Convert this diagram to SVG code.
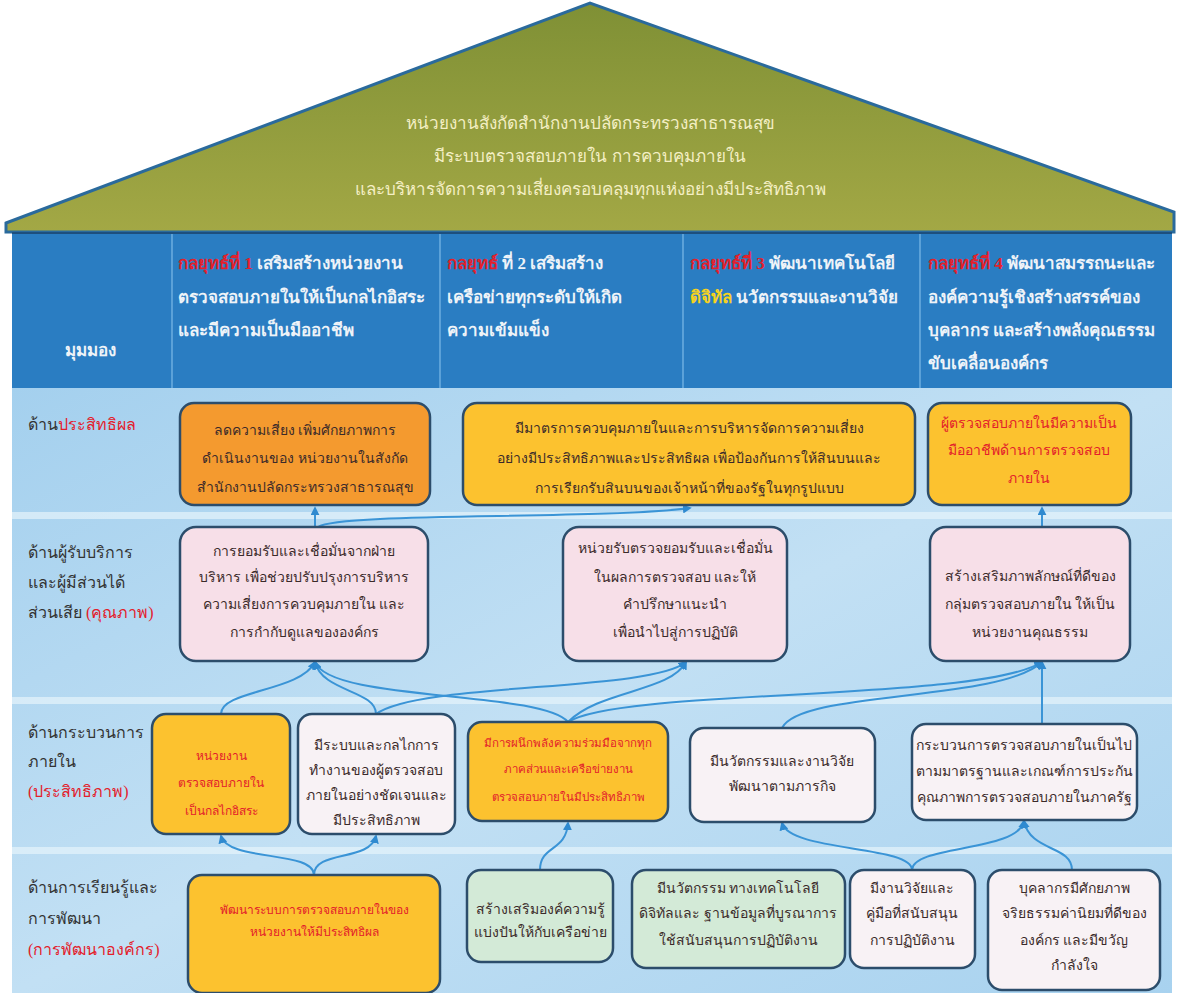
<svg xmlns="http://www.w3.org/2000/svg" width="1178" height="993" viewBox="0 0 1178 993">
<defs>
<linearGradient id="roofG" x1="0" y1="0" x2="0" y2="1">
<stop offset="0" stop-color="#7f9035"/>
<stop offset="1" stop-color="#a3a845"/>
</linearGradient>
<linearGradient id="bodyG" x1="0" y1="0" x2="1" y2="1">
<stop offset="0" stop-color="#a4d0ee"/>
<stop offset="0.5" stop-color="#c2e0f4"/>
<stop offset="1" stop-color="#a8d2ef"/>
</linearGradient>
<marker id="arr" viewBox="0 0 10 10" refX="8" refY="5" markerWidth="9" markerHeight="9" markerUnits="userSpaceOnUse" orient="auto">
<path d="M0,0 L10,5 L0,10 z" fill="#2f8ad0"/>
</marker>
<style>
.hd{font-family:"Liberation Serif","Noto Sans",serif;font-size:17px;font-weight:bold;fill:#eef3f8}
.rf{font-family:"Liberation Serif","Noto Sans",serif;font-size:17px;fill:#f4efc4}
.lb{font-family:"Liberation Serif","Noto Sans",serif;font-size:16px;fill:#333}
.tx{font-family:"Liberation Serif","Noto Sans",serif;font-size:14px;fill:#3b2a2a;text-anchor:middle}
.sm{font-size:12px}
.xs{font-size:11.5px}
.rd{fill:#e3202b}
.box{stroke:#2c4d6b;stroke-width:2.5}
.orange{fill:#f49a2f}
.yellow{fill:#fcc22f}
.pink{fill:#f7dfe8}
.white{fill:#f8f2f5}
.green{fill:#d3ead7}
.cn{fill:none;stroke:#3a94d6;stroke-width:2;marker-end:url(#arr)}
</style>
</defs>

<rect width="1178" height="993" fill="#ffffff"/>

<g id="roof">
<path d="M6,223 L590,3 L1174,212 L1174,232 L6,232 Z" fill="url(#roofG)" stroke="#2a6a9c" stroke-width="3"/>
<text class="rf" x="590" y="129" text-anchor="middle">หน่วยงานสังกัดสำนักงานปลัดกระทรวงสาธารณสุข</text>
<text class="rf" x="590" y="162" text-anchor="middle">มีระบบตรวจสอบภายใน การควบคุมภายใน</text>
<text class="rf" x="590" y="195" text-anchor="middle">และบริหารจัดการความเสี่ยงครอบคลุมทุกแห่งอย่างมีประสิทธิภาพ</text>
</g>

<g id="header">
<rect x="12" y="232" width="1160" height="156" fill="#2a7dc2"/>
<line x1="12" y1="233" x2="1172" y2="233" stroke="#1d4f7e" stroke-width="2"/>
<g stroke="#7dbbe8" stroke-width="1.2">
<line x1="172" y1="234" x2="172" y2="388"/>
<line x1="440" y1="234" x2="440" y2="388"/>
<line x1="683" y1="234" x2="683" y2="388"/>
<line x1="920" y1="234" x2="920" y2="388"/>
</g>
<text class="hd" x="90" y="356" text-anchor="middle">มุมมอง</text>
<text class="hd" x="178" y="269"><tspan class="rd">กลยุทธ์ที่ 1</tspan> เสริมสร้างหน่วยงาน</text>
<text class="hd" x="178" y="303">ตรวจสอบภายในให้เป็นกลไกอิสระ</text>
<text class="hd" x="178" y="336">และมีความเป็นมืออาชีพ</text>
<text class="hd" x="447" y="269"><tspan class="rd">กลยุทธ์</tspan> ที่ 2 เสริมสร้าง</text>
<text class="hd" x="447" y="303">เครือข่ายทุกระดับให้เกิด</text>
<text class="hd" x="447" y="336">ความเข้มแข็ง</text>
<text class="hd" x="690" y="269"><tspan class="rd">กลยุทธ์ที่ 3</tspan> พัฒนาเทคโนโลยี</text>
<text class="hd" x="690" y="303"><tspan fill="#f6d21e">ดิจิทัล</tspan> นวัตกรรมและงานวิจัย</text>
<text class="hd" x="928" y="269"><tspan class="rd">กลยุทธ์ที่ 4</tspan> พัฒนาสมรรถนะและ</text>
<text class="hd" x="928" y="303">องค์ความรู้เชิงสร้างสรรค์ของ</text>
<text class="hd" x="928" y="336">บุคลากร และสร้างพลังคุณธรรม</text>
<text class="hd" x="928" y="369">ขับเคลื่อนองค์กร</text>
</g>

<g id="body">
<rect x="12" y="388" width="1160" height="605" fill="url(#bodyG)"/>
<rect x="12" y="512" width="1160" height="7" fill="#e6f3fb" opacity="0.7"/>
<rect x="12" y="697" width="1160" height="7" fill="#e6f3fb" opacity="0.7"/>
<rect x="12" y="847" width="1160" height="7" fill="#e6f3fb" opacity="0.7"/>
</g>

<g id="labels">
<text class="lb" x="28" y="430">ด้าน<tspan class="rd">ประสิทธิผล</tspan></text>
<text class="lb" x="28" y="558">ด้านผู้รับบริการ</text>
<text class="lb" x="28" y="588">และผู้มีส่วนได้</text>
<text class="lb" x="28" y="618">ส่วนเสีย <tspan class="rd">(คุณภาพ)</tspan></text>
<text class="lb" x="28" y="738">ด้านกระบวนการ</text>
<text class="lb" x="28" y="767">ภายใน</text>
<text class="lb" x="28" y="797"><tspan class="rd">(ประสิทธิภาพ)</tspan></text>
<text class="lb" x="28" y="893">ด้านการเรียนรู้และ</text>
<text class="lb" x="28" y="924">การพัฒนา</text>
<text class="lb" x="28" y="955"><tspan class="rd">(การพัฒนาองค์กร)</tspan></text>
</g>

<g id="connectors">
<path class="cn" d="M315,527 L315,508"/>
<path class="cn" d="M318,527 C340,512 600,520 690,508"/>
<path class="cn" d="M1042,527 L1042,508"/>
<path class="cn" d="M221,714 C221,690 300,692 315,662"/>
<path class="cn" d="M376,714 C376,690 322,692 315,662"/>
<path class="cn" d="M376,714 C420,682 650,692 686,662"/>
<path class="cn" d="M568,722 C540,690 330,702 315,662"/>
<path class="cn" d="M568,722 C600,690 670,692 686,662"/>
<path class="cn" d="M568,722 C620,688 980,702 1042,662"/>
<path class="cn" d="M782,728 C800,690 1000,702 1042,662"/>
<path class="cn" d="M1042,724 L1042,662"/>
<path class="cn" d="M314,875 C314,850 228,862 221,836"/>
<path class="cn" d="M314,875 C314,850 370,862 376,836"/>
<path class="cn" d="M540,870 C540,845 566,852 568,823"/>
<path class="cn" d="M912,870 C912,845 790,852 782,823"/>
<path class="cn" d="M912,870 C912,845 1018,852 1024,821"/>
<path class="cn" d="M1072,870 C1072,845 1030,852 1024,821"/>
</g>

<g id="n-r1a">
<rect class="box orange" x="180" y="403" width="250" height="102" rx="14"/>
<text class="tx" x="305" y="435">ลดความเสี่ยง เพิ่มศักยภาพการ</text>
<text class="tx" x="305" y="463">ดำเนินงานของ หน่วยงานในสังกัด</text>
<text class="tx" x="305" y="492">สำนักงานปลัดกระทรวงสาธารณสุข</text>
</g>
<g id="n-r1b">
<rect class="box yellow" x="463" y="403" width="452" height="102" rx="14"/>
<text class="tx" x="689" y="433">มีมาตรการควบคุมภายในและการบริหารจัดการความเสี่ยง</text>
<text class="tx" x="689" y="463">อย่างมีประสิทธิภาพและประสิทธิผล  เพื่อป้องกันการให้สินบนและ</text>
<text class="tx" x="689" y="493">การเรียกรับสินบนของเจ้าหน้าที่ของรัฐในทุกรูปแบบ</text>
</g>
<g id="n-r1c">
<rect class="box yellow" x="928" y="403" width="203" height="102" rx="14"/>
<text class="tx rd" x="1029" y="428">ผู้ตรวจสอบภายในมีความเป็น</text>
<text class="tx rd" x="1029" y="455">มืออาชีพด้านการตรวจสอบ</text>
<text class="tx rd" x="1029" y="483">ภายใน</text>
</g>

<g id="n-r2a">
<rect class="box pink" x="180" y="527" width="248" height="134" rx="16"/>
<text class="tx" x="304" y="556">การยอมรับและเชื่อมั่นจากฝ่าย</text>
<text class="tx" x="304" y="582">บริหาร เพื่อช่วยปรับปรุงการบริหาร</text>
<text class="tx" x="304" y="609">ความเสี่ยงการควบคุมภายใน และ</text>
<text class="tx" x="304" y="637">การกำกับดูแลขององค์กร</text>
</g>
<g id="n-r2b">
<rect class="box pink" x="563" y="527" width="224" height="134" rx="16"/>
<text class="tx" x="675" y="553">หน่วยรับตรวจยอมรับและเชื่อมั่น</text>
<text class="tx" x="675" y="582">ในผลการตรวจสอบ   และให้</text>
<text class="tx" x="675" y="609">คำปรึกษาแนะนำ</text>
<text class="tx" x="675" y="637">เพื่อนำไปสู่การปฏิบัติ</text>
</g>
<g id="n-r2c">
<rect class="box pink" x="930" y="527" width="200" height="134" rx="16"/>
<text class="tx" x="1030" y="581">สร้างเสริมภาพลักษณ์ที่ดีของ</text>
<text class="tx" x="1030" y="609">กลุ่มตรวจสอบภายใน ให้เป็น</text>
<text class="tx" x="1030" y="637">หน่วยงานคุณธรรม</text>
</g>

<g id="n-r3a">
<rect class="box yellow" x="152" y="714" width="138" height="120" rx="14"/>
<text class="tx sm rd" x="221" y="760">หน่วยงาน</text>
<text class="tx sm rd" x="221" y="787">ตรวจสอบภายใน</text>
<text class="tx sm rd" x="221" y="815">เป็นกลไกอิสระ</text>
</g>
<g id="n-r3b">
<rect class="box white" x="298" y="714" width="157" height="120" rx="14"/>
<text class="tx" x="376" y="750">มีระบบและกลไกการ</text>
<text class="tx" x="376" y="775">ทำงานของผู้ตรวจสอบ</text>
<text class="tx" x="376" y="800">ภายในอย่างชัดเจนและ</text>
<text class="tx" x="376" y="825">มีประสิทธิภาพ</text>
</g>
<g id="n-r3c">
<rect class="box yellow" x="468" y="722" width="200" height="99" rx="14"/>
<text class="tx xs rd" x="568" y="747">มีการผนึกพลังความร่วมมือจากทุก</text>
<text class="tx xs rd" x="568" y="773">ภาคส่วนและเครือข่ายงาน</text>
<text class="tx xs rd" x="568" y="801">ตรวจสอบภายในมีประสิทธิภาพ</text>
</g>
<g id="n-r3d">
<rect class="box white" x="690" y="728" width="185" height="94" rx="14"/>
<text class="tx" x="782" y="766">มีนวัตกรรมและงานวิจัย</text>
<text class="tx" x="782" y="791">พัฒนาตามภารกิจ</text>
</g>
<g id="n-r3e">
<rect class="box white" x="912" y="724" width="225" height="96" rx="14"/>
<text class="tx" x="1024" y="750">กระบวนการตรวจสอบภายในเป็นไป</text>
<text class="tx" x="1024" y="776">ตามมาตรฐานและเกณฑ์การประกัน</text>
<text class="tx" x="1024" y="802">คุณภาพการตรวจสอบภายในภาครัฐ</text>
</g>

<g id="n-r4a">
<rect class="box yellow" x="188" y="875" width="252" height="118" rx="14"/>
<text class="tx sm rd" x="314" y="914">พัฒนาระบบการตรวจสอบภายในของ</text>
<text class="tx sm rd" x="314" y="936">หน่วยงานให้มีประสิทธิผล</text>
</g>
<g id="n-r4b">
<rect class="box green" x="467" y="870" width="146" height="92" rx="14"/>
<text class="tx" x="540" y="914">สร้างเสริมองค์ความรู้</text>
<text class="tx" x="540" y="937">แบ่งปันให้กับเครือข่าย</text>
</g>
<g id="n-r4c">
<rect class="box green" x="632" y="870" width="213" height="98" rx="14"/>
<text class="tx" x="738" y="893">มีนวัตกรรม ทางเทคโนโลยี</text>
<text class="tx" x="738" y="918">ดิจิทัลและ ฐานข้อมูลที่บูรณาการ</text>
<text class="tx" x="738" y="945">ใช้สนับสนุนการปฏิบัติงาน</text>
</g>
<g id="n-r4d">
<rect class="box white" x="850" y="870" width="125" height="98" rx="14"/>
<text class="tx" x="912" y="893">มีงานวิจัยและ</text>
<text class="tx" x="912" y="918">คู่มือที่สนับสนุน</text>
<text class="tx" x="912" y="945">การปฏิบัติงาน</text>
</g>
<g id="n-r4e">
<rect class="box white" x="988" y="870" width="172" height="120" rx="14"/>
<text class="tx" x="1074" y="893">บุคลากรมีศักยภาพ</text>
<text class="tx" x="1074" y="918">จริยธรรมค่านิยมที่ดีของ</text>
<text class="tx" x="1074" y="945">องค์กร และมีขวัญ</text>
<text class="tx" x="1074" y="970">กำลังใจ</text>
</g>
</svg>
